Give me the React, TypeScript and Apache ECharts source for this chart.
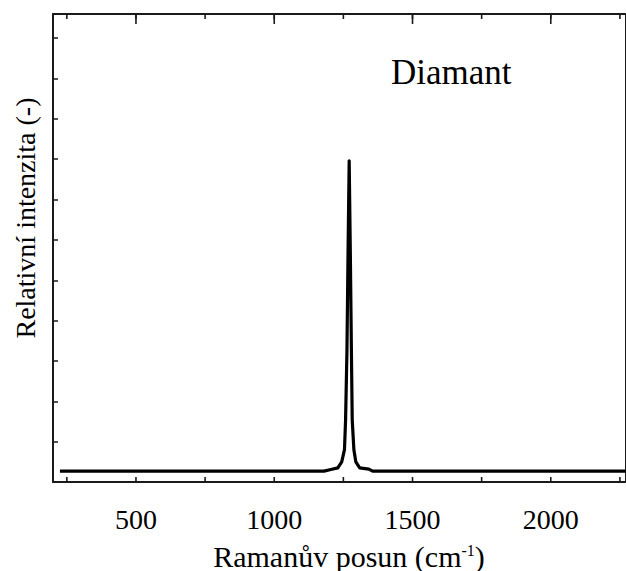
import React, { useEffect, useRef } from "react";
import * as echarts from "echarts";

const ramanShift = [225, 1150, 1180, 1205, 1230, 1244, 1254, 1258, 1263, 1267, 1271, 1275, 1279, 1282, 1288, 1295, 1309, 1342, 1356, 1400, 2300];
const intensity = [0.27, 0.27, 0.27, 0.31, 0.35, 0.5, 0.8, 1.54, 3.28, 5.77, 7.96, 5.77, 3.28, 1.54, 0.8, 0.5, 0.35, 0.32, 0.27, 0.27, 0.27];
const minorTicks = [250, 500, 750, 1000, 1250, 1500, 1750, 2000, 2250];
const majorTicks = [500, 1000, 1500, 2000];
const xLabels = [500, 1000, 1500, 2000];
const X_MIN = 200;
const X_MAX = 2272;
const Y_MIN = 0;
const Y_MAX = 11.6;

const FONT = "Liberation Serif";
const AXIS = "#1a1a1a";

export default function App() {
  const ref = useRef<HTMLDivElement>(null);
  useEffect(() => {
    if (!ref.current) return;
    const chart = echarts.init(ref.current, undefined, { renderer: "svg" });
    const tickSeries = (values: number[], yAxisIndex: number, len: number, dir: number) => ({
      type: "custom",
      xAxisIndex: 0,
      yAxisIndex,
      silent: true,
      clip: false,
      z: 5,
      data: values.map((v) => [v, 0]),
      renderItem: (_params: any, api: any) => {
        const p = api.coord([api.value(0), api.value(1)]);
        return {
          type: "rect",
          shape: { x: p[0] - 0.8, y: dir > 0 ? p[1] : p[1] - len, width: 1.6, height: len },
          style: { fill: AXIS },
        };
      },
    });
    chart.setOption({
      animation: false,
      textStyle: { fontFamily: FONT },
      grid: { left: 53, right: -2, top: 14, bottom: 89, containLabel: false },
      xAxis: [
        {
          type: "value",
          min: X_MIN,
          max: X_MAX,
          position: "bottom",
          splitLine: { show: false },
          axisLine: { show: true, onZero: false, lineStyle: { color: AXIS, width: 2 } },
          axisTick: { show: false },
          axisLabel: {
            show: true,
            customValues: xLabels,
            margin: 23,
            color: "#000",
            fontFamily: FONT,
            fontSize: 28,
            formatter: (v: number) => String(v),
          },
        },
        {
          type: "value",
          min: X_MIN,
          max: X_MAX,
          position: "top",
          splitLine: { show: false },
          axisLine: { show: true, onZero: false, lineStyle: { color: AXIS, width: 2 } },
          axisTick: { show: false },
          axisLabel: { show: false },
        },
      ],
      yAxis: [
        {
          type: "value",
          min: Y_MIN,
          max: Y_MAX,
          interval: 1,
          position: "left",
          splitLine: { show: false },
          axisLine: { show: true, onZero: false, lineStyle: { color: AXIS, width: 2 } },
          axisTick: { show: true, inside: true, length: 5, lineStyle: { color: AXIS, width: 1.5 } },
          axisLabel: { show: false },
        },
        {
          type: "value",
          min: Y_MIN,
          max: Y_MAX,
          interval: 1,
          position: "right",
          splitLine: { show: false },
          axisLine: { show: true, onZero: false, lineStyle: { color: AXIS, width: 2 } },
          axisTick: { show: false },
          axisLabel: { show: false },
        },
        {
          type: "value",
          min: 0,
          max: 1,
          inverse: true,
          show: false,
          position: "right",
          splitLine: { show: false },
        },
      ],
      series: [
        {
          type: "line",
          xAxisIndex: 0,
          yAxisIndex: 0,
          data: ramanShift.map((x, i) => [x, intensity[i]]),
          showSymbol: false,
          symbol: "none",
          lineStyle: { color: "#000", width: 3.2, join: "round" },
          clip: true,
          z: 4,
        },
        tickSeries(minorTicks, 0, 5, -1),
        tickSeries(minorTicks, 2, 5, 1),
        tickSeries(majorTicks, 2, 10, 1),
      ],
      graphic: [
        {
          type: "text",
          x: 391,
          y: 55,
          style: { text: "Diamant", fontFamily: FONT, fontSize: 35, fill: "#000" },
        },
        {
          type: "text",
          x: 11,
          y: 218,
          rotation: Math.PI / 2,
          style: { text: "Relativní intenzita (-)", fontFamily: FONT, fontSize: 28, fill: "#000", align: "center" },
        },
        {
          type: "text",
          x: 349,
          y: 556,
          style: {
            text: "{a|Ramanův posun (cm}{s|-1}{a|)}",
            fontFamily: FONT,
            fontSize: 30,
            align: "center",
            verticalAlign: "middle",
            rich: {
              a: { fontFamily: FONT, fontSize: 30, fill: "#000", lineHeight: 28, verticalAlign: "middle" },
              s: { fontFamily: FONT, fontSize: 16, fill: "#000", lineHeight: 28, verticalAlign: "top" },
            },
          },
        },
      ],
    });
    return () => chart.dispose();
  }, []);
  return (
    <div
      ref={ref}
      style={{ position: "fixed", left: 0, top: 0, width: 626, height: 571, background: "#fff" }}
    />
  );
}
